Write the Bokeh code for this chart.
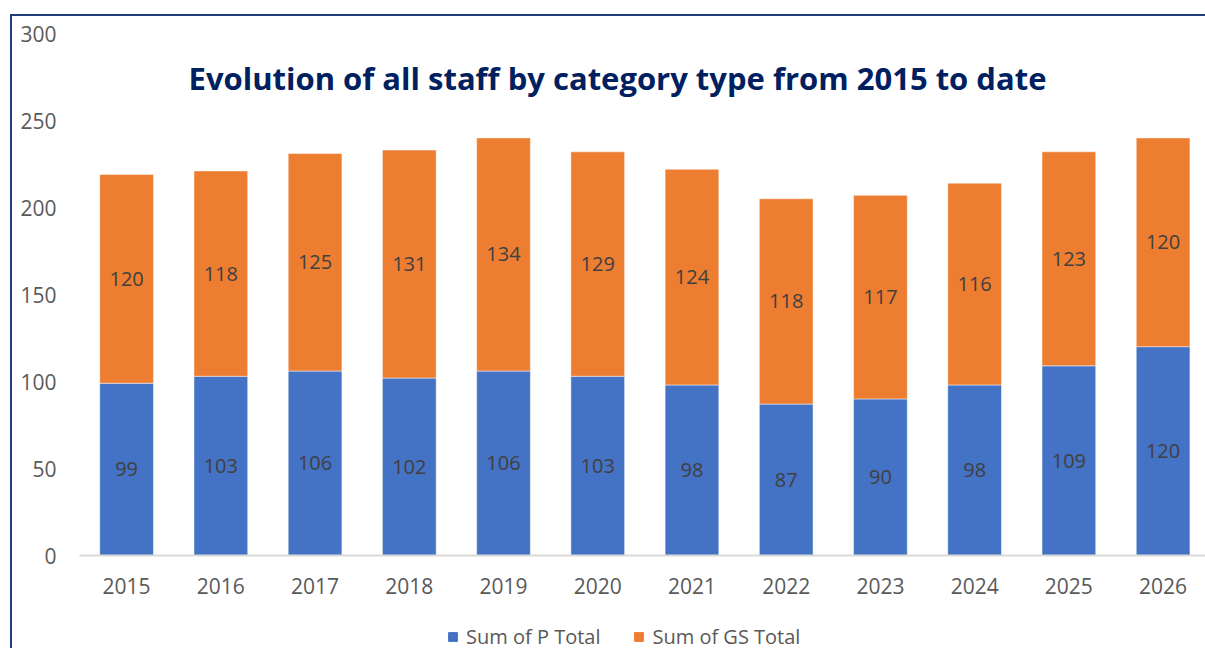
from bokeh.plotting import figure
from bokeh.models import ColumnDataSource, Label, Legend, LegendItem, FixedTicker, LabelSet
from bokeh.core.properties import value
from bokeh.layouts import column
from bokeh.embed import file_html
from bokeh.resources import INLINE

years = [2015, 2016, 2017, 2018, 2019, 2020, 2021, 2022, 2023, 2024, 2025, 2026]
p_total = [99, 103, 106, 102, 106, 103, 98, 87, 90, 98, 109, 120]
gs_total = [120, 118, 125, 131, 134, 129, 124, 118, 117, 116, 123, 120]
series_names = ["Sum of P Total", "Sum of GS Total"]
y_ticks = [0, 50, 100, 150, 200, 250, 300]
title_text = "Evolution of all staff by category type from 2015 to date"

BLUE = "#4472C4"
ORANGE = "#ED7D31"
FONT = "Open Sans"

src = ColumnDataSource(dict(
    x=years,
    P=p_total,
    GS=gs_total,
    p_mid=[v / 2 for v in p_total],
    gs_mid=[a + b / 2 for a, b in zip(p_total, gs_total)],
    p_lbl=[str(v) for v in p_total],
    gs_lbl=[str(v) for v in gs_total],
))

p = figure(frame_width=1126, frame_height=522, output_backend="svg", toolbar_location=None,
           x_range=(2014.5, 2026.45), y_range=(0, 300),
           min_border_left=67, min_border_right=0, min_border_top=17, min_border_bottom=66)
p.outline_line_color = None
p.xgrid.grid_line_color = None
p.ygrid.grid_line_color = None

r = p.vbar_stack(["P", "GS"], x="x", width=0.57, source=src,
                 color=[BLUE, ORANGE], line_color="white", line_width=0.8, line_alpha=0.6)

for ycol, tcol in (("p_mid", "p_lbl"), ("gs_mid", "gs_lbl")):
    ls = LabelSet(x="x", y=ycol, text=tcol, source=src, text_align="center",
                  text_baseline="middle", text_font=value(FONT), text_font_size="20px",
                  text_color="#404040")
    p.add_layout(ls)

# axes
p.yaxis.ticker = FixedTicker(ticks=y_ticks)
p.yaxis.axis_line_color = None
p.yaxis.major_tick_line_color = None
p.yaxis.minor_tick_line_color = None
p.yaxis.major_label_standoff = 17
p.yaxis.major_label_text_font = FONT
p.yaxis.major_label_text_font_size = "21px"
p.yaxis.major_label_text_color = "#595959"

p.xaxis.ticker = FixedTicker(ticks=years)
p.xaxis.axis_line_color = "#D9D9D9"
p.xaxis.axis_line_width = 2
p.xaxis.major_tick_line_color = None
p.xaxis.minor_tick_line_color = None
p.xaxis.major_label_standoff = 16
p.xaxis.major_label_text_font = FONT
p.xaxis.major_label_text_font_size = "21px"
p.xaxis.major_label_text_color = "#595959"

title = Label(x=538, y=478, x_units="screen", y_units="screen", text=title_text,
              text_align="center", text_baseline="alphabetic",
              text_font=FONT, text_font_style="bold", text_font_size="31px",
              text_color="#002060")
p.add_layout(title)

# legend strip below the chart (its own small figure, legend inside its frame)
lg = figure(frame_width=1126, frame_height=32, output_backend="svg", toolbar_location=None,
            x_range=(0, 1), y_range=(0, 1), x_axis_location=None, y_axis_location=None,
            min_border_left=67, min_border_right=0, min_border_top=0, min_border_bottom=0)
lg.outline_line_color = None
lg.xgrid.grid_line_color = None
lg.ygrid.grid_line_color = None
lr = lg.vbar_stack(["P", "GS"], x="x", width=0.57, source=src, color=[BLUE, ORANGE])

legend = Legend(items=[LegendItem(label=series_names[0], renderers=[lr[0]]),
                       LegendItem(label=series_names[1], renderers=[lr[1]])],
                orientation="horizontal", location=(368, 3),
                glyph_width=11, glyph_height=11, label_standoff=8, spacing=33,
                label_text_font=FONT, label_text_font_size="20px",
                label_text_color="#595959", border_line_color=None,
                background_fill_alpha=0, margin=0, padding=0)
lg.add_layout(legend)

root = column(p, lg, spacing=0,
              styles={"margin-left": "10px", "margin-top": "14px",
                      "border-left": "2px solid #1F3D7A",
                      "border-top": "2px solid #1F3D7A"})

open("out.html", "w").write(file_html(root, INLINE))
